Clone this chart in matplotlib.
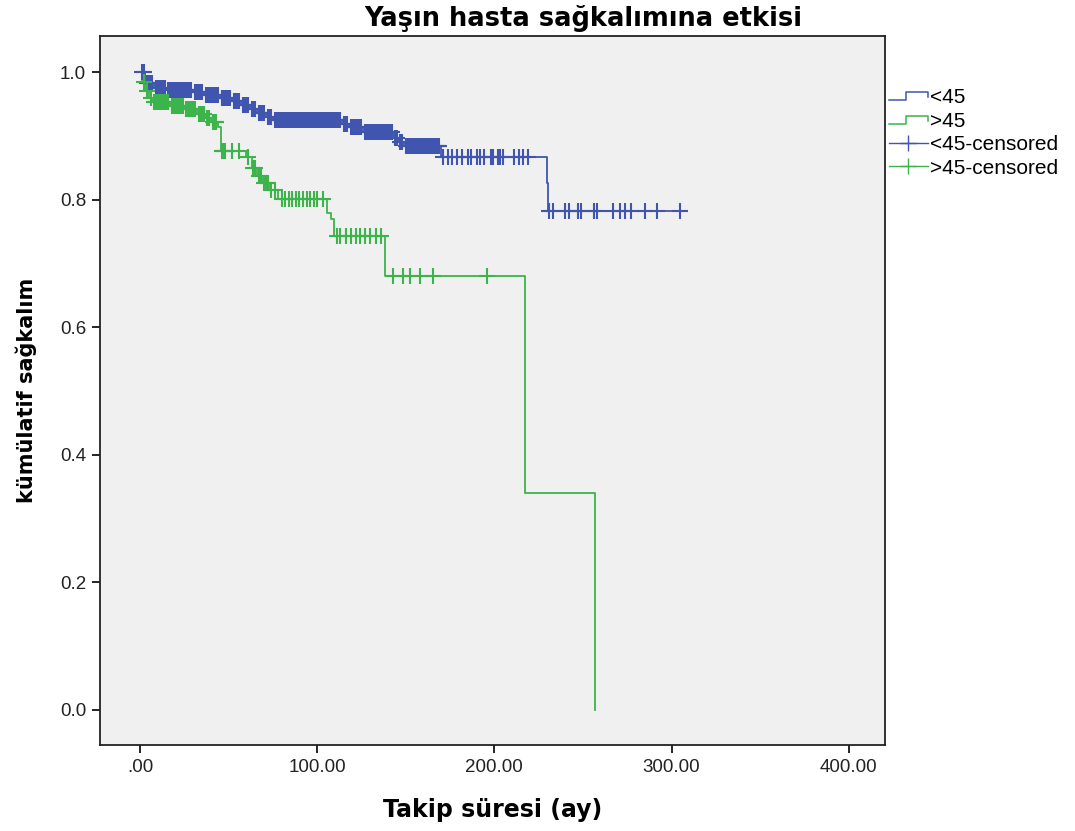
import numpy as np
import matplotlib
matplotlib.use("Agg")
import matplotlib.pyplot as plt
from matplotlib.lines import Line2D
from matplotlib.legend_handler import HandlerBase

# Kaplan-Meier steps: event time (months) -> survival after it
young_event_t = [3, 8, 15, 30, 36, 45, 52, 57, 62, 66, 71, 75, 114, 118, 126,
                 143, 146, 149, 170, 229.5, 230.5]
young_event_s = [0.983, 0.976, 0.972, 0.969, 0.964, 0.960, 0.955, 0.948, 0.942,
                 0.936, 0.930, 0.926, 0.919, 0.914, 0.906, 0.897, 0.890, 0.885,
                 0.868, 0.827, 0.783]
young_last_t = 308

old_event_t = [1, 3, 5, 7, 17, 25, 32, 37, 40, 44, 45.5, 60, 63, 66, 69, 73, 78,
               105.5, 108, 109.5, 138, 217.5, 257]
old_event_s = [0.985, 0.970, 0.960, 0.953, 0.947, 0.942, 0.935, 0.929, 0.922,
               0.915, 0.876, 0.868, 0.850, 0.838, 0.826, 0.815, 0.802, 0.780,
               0.770, 0.743, 0.681, 0.341, 0.0]
old_last_t = 257

young_cens = [1, 2, 4, 5, 6, 7, 9, 10, 11, 12, 13, 14, 16, 17, 18, 19, 20, 21, 22,
              23, 24, 25, 26, 27, 28, 29, 31, 32, 33, 34, 35, 37, 38, 39, 40, 41,
              42, 43, 44, 46, 47, 48, 49, 50, 51, 53, 54, 55, 56, 58, 59, 60, 61,
              63, 64, 65, 67, 68, 69, 70, 72, 73, 74, 76, 77, 78, 79, 80, 81, 82,
              83, 84, 85, 86, 87, 88, 89, 90, 91, 92, 93, 94, 95, 96, 97, 98, 99,
              100, 101, 102, 103, 104, 105, 106, 107, 108, 109, 110, 111, 112, 113,
              115, 116, 117, 119, 120, 121, 122, 123, 124, 125, 127, 128, 129, 130,
              131, 132, 133, 134, 135, 136, 137, 138, 139, 140, 141, 142, 144, 145,
              147, 148, 150, 151, 152, 153, 154, 155, 156, 157, 158, 159, 160, 161,
              162, 163, 164, 165, 166, 167, 168, 169,
              171, 174, 176, 179, 182, 185, 187, 190, 192, 194, 198, 199, 202, 203,
              205, 211, 214, 216, 219,
              231, 233, 240, 242, 247, 249, 256, 258, 267, 271, 274, 277, 285, 292,
              305]
old_cens = [2, 4, 6, 8, 9, 10, 11, 12, 13, 14, 15, 16, 18, 19, 20, 21, 22, 23, 24,
            26, 27, 28, 29, 30, 31, 33, 34, 35, 36, 38, 39, 41, 42, 43, 46, 47, 48,
            52, 56, 61, 64, 65, 67, 68, 70, 71, 72, 74, 76, 80, 82, 84, 86, 88, 90,
            92, 94, 96, 98, 100, 103, 111, 113, 116, 119, 122, 124, 127, 130, 133,
            136, 143, 148.6, 152.5, 158, 165.5, 196]

blue = '#3f55b0'
green = '#3cb44b'


def km_arrays(ev_t, ev_s, last_t):
    t = np.concatenate([[0], ev_t, [last_t]])
    s = np.concatenate([[1.0], ev_s, [ev_s[-1]]])
    return t, s


def surv_at(ev_t, ev_s, times):
    t = np.concatenate([[0], ev_t])
    s = np.concatenate([[1.0], ev_s])
    idx = np.searchsorted(t, times, side='right') - 1
    return s[idx]


class StepHandler(HandlerBase):
    def create_artists(self, legend, orig_handle, xdescent, ydescent, width,
                       height, fontsize, trans):
        xs = np.array([0, 0.45, 0.45, 1.0, 1.0]) * width - xdescent
        ys = np.array([0.2, 0.2, 0.75, 0.75, 0.4]) * height - ydescent
        ln = Line2D(xs, ys, color=orig_handle.get_color(), lw=1.1)
        ln.set_transform(trans)
        return [ln]


fig = plt.figure(figsize=(10.75, 8.31), dpi=100)
fig.patch.set_facecolor('white')
ax = fig.add_axes([100/1075, 86/831, 785/1075, 709/831])
ax.set_facecolor('#f0f0f0')

yt, ys = km_arrays(young_event_t, young_event_s, young_last_t)
ot, os_ = km_arrays(old_event_t, old_event_s, old_last_t)
l1, = ax.step(yt, ys, where='post', color=blue, lw=1.3)
l2, = ax.step(ot, os_, where='post', color=green, lw=1.3)
ax.plot(young_cens, surv_at(young_event_t, young_event_s, young_cens), '+',
        color=blue, ms=11, mew=1.5, ls='none')
ax.plot(old_cens, surv_at(old_event_t, old_event_s, old_cens), '+',
        color=green, ms=11, mew=1.5, ls='none')

ax.set_xlim(-22.6, 420.5)
ax.set_ylim(-0.055, 1.057)
ax.set_xticks([0, 100, 200, 300, 400])
ax.set_xticklabels(['.00', '100.00', '200.00', '300.00', '400.00'])
ax.set_yticks([0, 0.2, 0.4, 0.6, 0.8, 1.0])
ax.set_yticklabels(['0.0', '0.2', '0.4', '0.6', '0.8', '1.0'])
ax.tick_params(direction='out', length=6, width=1.2, labelsize=13.5,
               colors='black', pad=4)
for lab in ax.get_xticklabels() + ax.get_yticklabels():
    lab.set_family('Liberation Sans')
    lab.set_color('#222222')
for sp in ax.spines.values():
    sp.set_linewidth(1.3)
    sp.set_color('#222222')

ax.set_xlabel('Takip süresi (ay)', fontsize=17, fontweight='bold',
              family='DejaVu Sans', labelpad=16)
ax.set_ylabel('kümülatif sağkalım', fontsize=15, fontweight='bold',
              family='DejaVu Sans', labelpad=16.5)
# title sits centred over plot + legend area, as in the original
fig.text(583/1075, 1 - 18/831, 'Yaşın hasta sağkalımına etkisi', fontsize=18.5,
         fontweight='bold', family='DejaVu Sans', ha='center', va='center')

leg_c1 = Line2D([], [], color=blue, marker='+', ms=11, mew=1.0, lw=1.0)
leg_c2 = Line2D([], [], color=green, marker='+', ms=11, mew=1.0, lw=1.0)
fig.legend([l1, l2, leg_c1, leg_c2],
           ['<45', '>45', '<45-censored', '>45-censored'],
           handler_map={l1: StepHandler(), l2: StepHandler()},
           loc='upper left', bbox_to_anchor=(889/1075, 1 - 88/831),
           frameon=False, prop={'family': 'Liberation Sans', 'size': 15},
           handlelength=1.85, handletextpad=0.1, labelspacing=0.22,
           borderaxespad=0, borderpad=0)

fig.savefig('out.png', dpi=100)
